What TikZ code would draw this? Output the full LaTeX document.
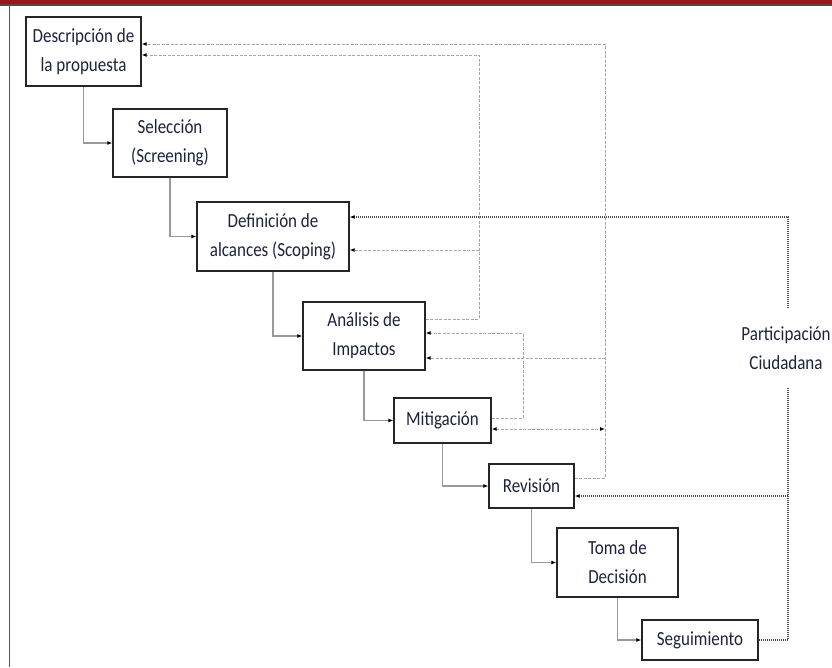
\documentclass[tikz,border=0pt]{standalone}
\usepackage{fontspec}
\setmainfont{Carlito}[FakeStretch=0.85]
\usetikzlibrary{arrows.meta}
\definecolor{barred}{RGB}{152,22,30}
\definecolor{txt}{RGB}{30,35,60}
\begin{document}
\begin{tikzpicture}[x=1pt,y=-1pt,
  stage/.style={draw=black!85, line width=1.3pt, fill=white, inner sep=0pt,
    align=center, font=\fontsize{20}{29}\selectfont, text=txt},
  flow/.style={draw=black!40, line width=1.2pt, -{Latex[color=black,length=5pt,width=4pt]}},
  back/.style={draw=black!35, line width=1pt, dash pattern=on 3pt off 1.5pt},
  civic/.style={draw=black!70, line width=1.1pt, dash pattern=on 1pt off 1pt},
  tip/.style={-{Latex[color=black,length=5pt,width=4pt]}},
  tips/.style={{Latex[color=black,length=5pt,width=4pt]}-{Latex[color=black,length=5pt,width=4pt]}}]
\useasboundingbox (0,0) rectangle (832,667);

% page frame: red header band and left rule
\fill[barred] (0,0) rectangle (832,4);
\draw[black!70, line width=1.5pt] (0,4.8) -- (832,4.8);
\draw[black!65, line width=1.5pt] (9.5,5) -- (9.5,667);

% process stages
\node[stage, minimum width=115pt, minimum height=69pt] (desc) at (83.5,51.5) {Descripción de\\la propuesta};
\node[stage, minimum width=114pt, minimum height=68pt] (sel) at (170,143) {Selección\\(Screening)};
\node[stage, minimum width=152pt, minimum height=69pt] (alc) at (273,236.5) {Definición de\\alcances (Scoping)};
\node[stage, minimum width=122pt, minimum height=68pt] (imp) at (364,336) {Análisis de\\Impactos};
\node[stage, minimum width=97pt, minimum height=45pt] (mit) at (442.5,420.5) {Mitigación};
\node[stage, minimum width=85pt, minimum height=44pt] (rev) at (531.5,486) {Revisión};
\node[stage, minimum width=121pt, minimum height=69pt] (dec) at (617.5,562.5) {Toma de\\Decisión};
\node[stage, minimum width=116pt, minimum height=40pt] (seg) at (700,640) {Seguimiento};

\node[inner sep=0pt, align=center, font=\fontsize{20}{29}\selectfont, text=txt,
  minimum height=80pt] (part) at (786,348) {Participación\\Ciudadana};

% main sequence
\draw[flow] (desc.south) |- (sel.west);
\draw[flow] (sel.south) |- (alc.west);
\draw[flow] (alc.south) |- (imp.west);
\draw[flow] (imp.south) |- (mit.west);
\draw[flow] (mit.south) |- (rev.west);
\draw[flow] (rev.south) |- (dec.west);
\draw[flow] (dec.south) |- (seg.west);

% feedback buses
\coordinate (busA) at (605,0);
\coordinate (busB) at (479,0);
\coordinate (busC) at (523,0);
\coordinate (pc) at (788,0);

\draw[back, tip] (rev.east |- 0,478) -| (busA |- 0,44) -- (desc.east |- 0,44);
\draw[back, tip] (imp.east |- 0,319) -| (busB |- 0,55) -- (desc.east |- 0,55);
\draw[back, tip] (busB |- 0,250) -- (alc.east |- 0,250);
\draw[back, tip] (mit.east |- 0,418) -| (busC |- 0,333) -- (imp.east |- 0,333);
\draw[back, tip] (busA |- 0,358) -- (imp.east |- 0,358);
\draw[back, tips] (mit.east |- 0,429) -- (busA |- 0,429);

% citizen participation
\draw[civic, tip] (pc |- part.north) |- (alc.east |- 0,217);
\draw[civic] (pc |- part.south) |- (seg.east);
\draw[civic, tip] (pc |- 0,496) -- (rev.east |- 0,496);
\end{tikzpicture}
\end{document}
